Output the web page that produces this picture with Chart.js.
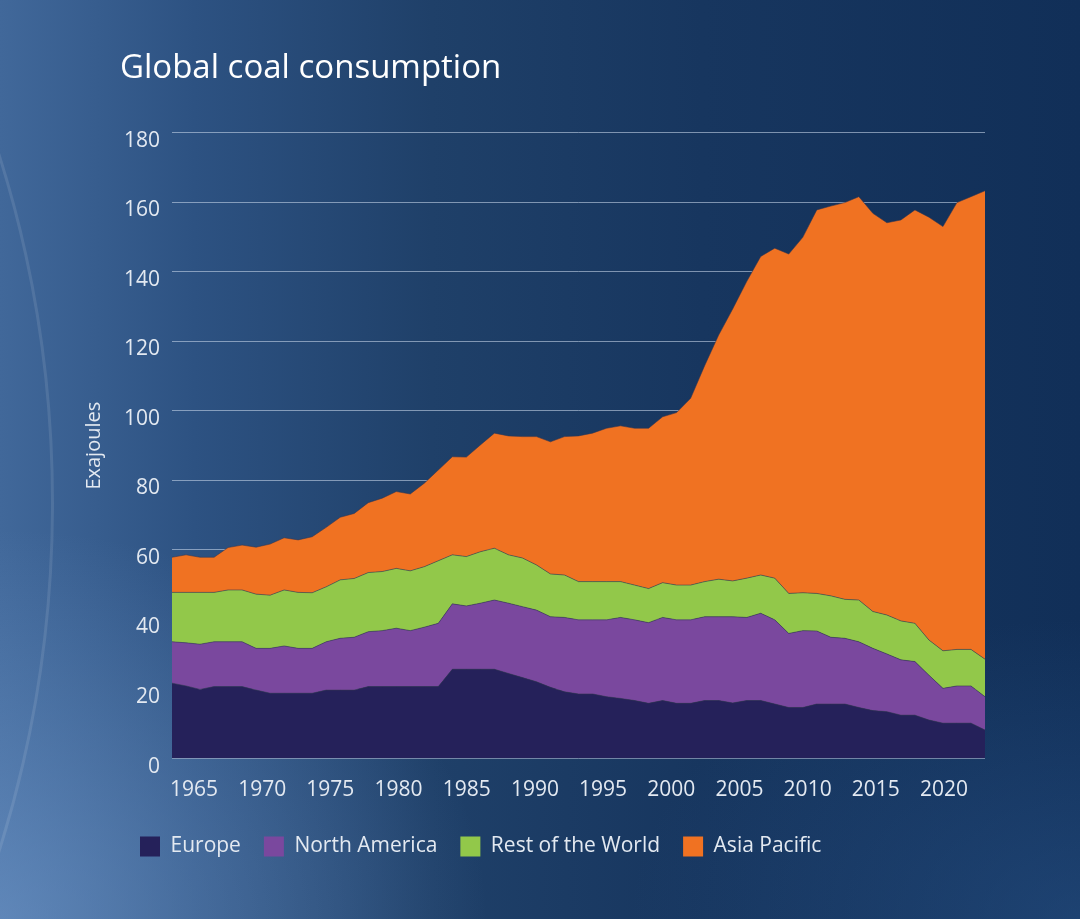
<!DOCTYPE html>
<html>
<head>
<meta charset="utf-8">
<script src="https://cdn.jsdelivr.net/npm/chart.js@4.4.1/dist/chart.umd.min.js"></script>
<style>
html,body{margin:0;padding:0;width:1080px;height:919px;overflow:hidden;}
body{
  position:relative;
  background:
    radial-gradient(ellipse 650px 520px at 0% 100%, rgba(120,160,210,0.55), rgba(120,160,210,0) 75%),
    radial-gradient(ellipse 600px 400px at 100% 100%, rgba(45,90,145,0.45), rgba(45,90,145,0) 75%),
    linear-gradient(90deg, #41689a 0%, #2d5282 18%, #1f4069 40%, #17365f 65%, #112f58 100%);
}
#ring{position:absolute;width:2316px;height:2316px;left:-2268px;top:-658px;border-radius:50%;border:3px solid rgba(255,255,255,0.10);}
canvas{position:absolute;left:0;top:0;}
</style>
</head>
<body>
<div id="ring"></div>
<canvas id="c" width="1080" height="919"></canvas>
<script>
const years = [1965,1966,1967,1968,1969,1970,1971,1972,1973,1974,1975,1976,1977,1978,1979,
  1980,1981,1982,1983,1984,1985,1986,1987,1988,1989,1990,1991,1992,1993,1994,1995,1996,1997,
  1998,1999,2000,2001,2002,2003,2004,2005,2006,2007,2008,2009,2010,2011,2012,2013,2014,2015,
  2016,2017,2018,2019,2020,2021,2022,2023];
const tickYears = [1965,1970,1975,1980,1985,1990,1995,2000,2005,2010,2015,2020];

const europe = [21.7,20.9,19.9,20.7,20.7,20.7,19.7,18.8,18.8,18.8,18.8,19.7,19.7,19.7,20.7,
  20.7,20.7,20.7,20.7,20.7,25.7,25.7,25.7,25.7,24.5,23.3,22.1,20.5,19.2,18.6,18.6,17.8,17.3,
  16.7,15.9,16.7,15.9,15.9,16.7,16.7,16.0,16.7,16.7,15.7,14.7,14.7,15.7,15.7,15.7,14.7,13.8,
  13.5,12.5,12.5,11.1,10.2,10.2,10.2,8.2];
const northAmerica = [11.9,12.4,13.0,12.9,12.9,12.9,12.0,12.9,13.6,12.9,12.9,13.9,14.9,15.2,15.8,
  16.1,16.8,16.1,17.1,18.2,18.8,18.2,19.0,19.9,20.2,20.4,20.6,20.3,21.4,21.3,21.3,22.1,23.3,
  23.2,23.2,23.9,24.0,24.0,24.1,24.1,24.8,23.9,25.1,24.2,21.3,22.1,21.0,19.2,18.9,18.9,17.9,
  16.6,15.9,15.4,12.9,10.0,10.7,10.7,9.6];
const restOfWorld = [14.2,14.5,14.9,14.2,14.9,14.9,15.6,15.3,16.1,16.1,16.0,15.8,16.8,16.9,17.0,
  17.0,17.2,17.2,17.4,18.0,14.1,14.2,14.8,14.9,13.9,14.0,13.0,12.3,12.2,11.0,11.0,11.0,10.3,
  10.0,9.8,10.0,10.0,10.0,10.1,10.8,10.3,11.3,11.0,12.0,11.5,10.9,10.8,11.9,11.2,12.0,10.6,
  11.2,11.2,11.0,10.1,10.8,10.5,10.5,10.8];
const asiaPacific = [10.1,10.8,10.1,10.1,12.2,12.9,13.5,14.7,15.0,15.1,16.1,17.1,18.0,18.7,20.1,
  21.1,22.1,22.1,24.0,26.1,28.2,28.6,30.7,33.1,34.2,34.9,36.9,38.0,39.8,41.9,42.7,44.1,44.8,
  45.1,46.1,47.7,49.6,53.7,62.1,70.2,78.2,85.3,91.6,94.9,97.6,102.2,110.3,112.1,114.1,116.0,114.5,
  112.8,115.3,118.9,121.6,122.0,128.5,130.2,134.7];

const FONT = "'Open Sans', 'Noto Sans', sans-serif";
const TXT = '#e3e9f1';
const GRID = 'rgba(195,210,230,0.6)';

const ctx = document.getElementById('c').getContext('2d');
new Chart(ctx, {
  type: 'line',
  data: {
    labels: years,
    datasets: [
      {label: 'Europe', data: europe, backgroundColor: '#25215a', fill: 'origin'},
      {label: 'North America', data: northAmerica, backgroundColor: '#7a489e', fill: '-1'},
      {label: 'Rest of the World', data: restOfWorld, backgroundColor: '#92c84a', fill: '-1'},
      {label: 'Asia Pacific', data: asiaPacific, backgroundColor: '#f07222', fill: '-1'}
    ]
  },
  options: {
    responsive: false,
    animation: false,
    devicePixelRatio: 1,
    layout: {padding: {left: 0, right: 95, top: 0, bottom: 52}},
    elements: {
      point: {radius: 0, hoverRadius: 0},
      line: {tension: 0, borderWidth: 1, borderColor: 'rgba(55,55,80,0.55)'}
    },
    scales: {
      x: {type: 'category', display: false, offset: false},
      xl: {
        type: 'linear', position: 'bottom', min: 1963.387, max: 2023.007,
        afterBuildTicks: a => { a.ticks = tickYears.map(v => ({value: v})); },
        afterFit: s => { s.height = 54.4; },
        ticks: {callback: v => String(v), color: TXT, font: {family: FONT, size: 21}, padding: 18.8, maxRotation: 0, autoSkip: false},
        grid: {display: false, drawTicks: false},
        border: {display: false}
      },
      y: {
        stacked: true, min: 0, max: 180,
        afterFit: s => { s.width = 172; },
        ticks: {stepSize: 20, color: TXT, font: {family: FONT, size: 21}, padding: 12, labelOffset: 8},
        grid: {color: GRID, lineWidth: 1, drawTicks: false},
        border: {display: false},
        title: {display: true, text: 'Exajoules', color: TXT, font: {family: FONT, size: 20}, padding: {top: 82, bottom: 0}}
      }
    },
    plugins: {
      title: {
        display: true, text: 'Global coal consumption', align: 'start', color: '#ffffff',
        font: {family: FONT, size: 33, weight: 'normal'}, padding: {top: 49.2, bottom: 43.9}
      },
      legend: {
        position: 'bottom', align: 'start',
        labels: {
          boxWidth: 20, boxHeight: 20, padding: 23, color: TXT, font: {family: FONT, size: 21},
          generateLabels: chart => Chart.defaults.plugins.legend.labels.generateLabels(chart)
            .map(l => Object.assign(l, {lineWidth: 0, strokeStyle: 'rgba(0,0,0,0)'}))
        }
      },
      tooltip: {enabled: false}
    }
  },
  plugins: [{
    id: 'shiftBlocks',
    afterLayout(chart) {
      const t = chart.titleBlock;
      if (t) { const w = t.right - t.left; t.left = 120; t.right = 120 + w; }
      const l = chart.legend;
      if (l) { const w = l.right - l.left; l.left = 117; l.right = 117 + w; }
    }
  }]
});
</script>
</body>
</html>
